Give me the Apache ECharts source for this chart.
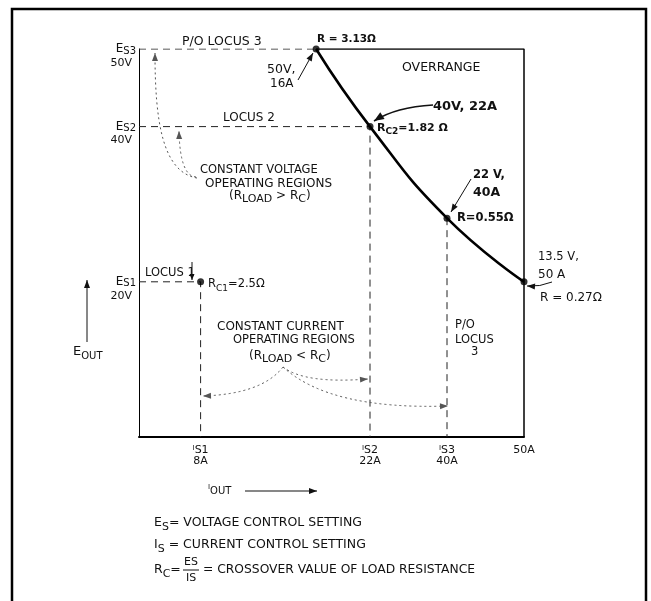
<!DOCTYPE html>
<html><head><meta charset="utf-8">
<script src="https://cdn.jsdelivr.net/npm/echarts@6/dist/echarts.min.js"></script>
<style>html,body{margin:0;padding:0;background:#fff}#c{width:651px;height:601px}</style>
</head><body><div id="c"></div>
<script>
// ---- data (drawn positions read from the schematic) ----
const curveI = [23, 30, 40, 50];
const curveE = [50, 40, 28.2, 20];
const pointI = [8, 23, 30, 40, 50];
const pointE = [20, 50, 40, 28.2, 20];
const esPos = [20, 40, 50];
const esSub = ['S1', 'S2', 'S3'];
const esVolts = ['20V', '40V', '50V'];
const isPos = [8, 30, 40, 50];
const isSub = ['S1', 'S2', 'S3', ''];
const isAmps = ['8A', '22A', '40A', '50A'];
const locus1I = [0, 8, 8], locus1E = [20, 20, 0];
const locus2I = [0, 30, 30], locus2E = [40, 40, 0];
const locus3I = [0, 23], locus3E = [50, 50];
const locus3vI = [40, 40], locus3vE = [28.2, 0];
const overI = [23, 50, 50], overE = [50, 50, 0];

const zip = (a, b) => a.map((v, i) => [v, b[i]]);
const FONT = "'DejaVu Sans', sans-serif";
const INK = '#111';

function dashed(name, xs, ys) {
  return { name, type: 'line', data: zip(xs, ys), symbol: 'none', silent: true,
    lineStyle: { color: '#222', width: 1, type: [7, 5] }, z: 2 };
}

// ---- annotation helpers ----
const G = [];
function txt(x, y, text, o) {
  o = o || {};
  const size = o.size || 11.5, w = o.bold ? 'bold ' : '';
  const st = { text, x, y, font: w + size + 'px ' + FONT, fill: INK,
    textAlign: o.align || 'left', textVerticalAlign: 'middle' };
  if (o.rich) st.rich = o.rich;
  G.push({ type: 'text', style: st, z: 10 });
}
function richSet(size, bold, subScale) {
  const w = bold ? 'bold' : 'normal';
  return {
    m: { fontFamily: FONT, fontSize: size, fontWeight: w, fill: INK, lineHeight: size + 6, verticalAlign: 'middle' },
    s: { fontFamily: FONT, fontSize: Math.round(size * (subScale || 0.78)), fontWeight: w, fill: INK, lineHeight: size + 6, verticalAlign: 'bottom' }
  };
}
function head(x, y, fx, fy, len, hw, color) {
  const dx = x - fx, dy = y - fy, d = Math.hypot(dx, dy) || 1;
  const ux = dx / d, uy = dy / d;
  const bx = x - ux * len, by = y - uy * len;
  G.push({ type: 'polygon', shape: { points: [[x, y], [bx - uy * hw, by + ux * hw], [bx + uy * hw, by - ux * hw]] },
    style: { fill: color }, z: 11 });
}
function arrowLine(p0, p1, o) {
  o = o || {};
  const c = o.color || INK;
  G.push({ type: 'line', shape: { x1: p0[0], y1: p0[1], x2: p1[0], y2: p1[1] },
    style: { stroke: c, lineWidth: o.width || 1, lineDash: o.dash || null }, z: 11 });
  head(p1[0], p1[1], p0[0], p0[1], o.len || 8, o.hw || 3, c);
}
function arrowCurve(p0, cp, p1, o, cp2) {
  o = o || {};
  const c = o.color || INK;
  const shape = { x1: p0[0], y1: p0[1], x2: p1[0], y2: p1[1], cpx1: cp[0], cpy1: cp[1] };
  if (cp2) { shape.cpx2 = cp2[0]; shape.cpy2 = cp2[1]; }
  G.push({ type: 'bezierCurve', shape, style: { stroke: c, lineWidth: o.width || 1, lineDash: o.dash || null, fill: null }, z: 11 });
  const f = cp2 || cp;
  head(p1[0], p1[1], f[0], f[1], o.len || 8, o.hw || 3, c);
}

// frame
G.push({ type: 'polyline', shape: { points: [[12, 605], [12, 9], [646, 9], [646, 605]] },
  style: { stroke: '#000', lineWidth: 2.5, fill: null }, z: 1 });

// texts
txt(182, 42, 'P/O LOCUS 3', { size: 12.5 });
txt(317, 39, 'R = 3.13Ω', { bold: true, size: 10.5 });
txt(267, 70, '50V,', { size: 12.5 });
txt(270, 84, '16A', { size: 12 });
txt(402, 68, 'OVERRANGE', { size: 12.5 });
txt(433, 107, '40V, 22A', { bold: true, size: 13 });
txt(377, 128, '{m|R}{s|C2}{m|=1.82 Ω}', { rich: richSet(11, true, 0.85) });
txt(223, 118, 'LOCUS 2', { size: 12 });
txt(200, 170, 'CONSTANT VOLTAGE');
txt(205, 184, 'OPERATING REGIONS', { size: 12 });
txt(229, 196, '{m|(R}{s|LOAD}{m| > R}{s|C}{m|)}', { rich: richSet(12, false, 0.9) });
txt(145, 273, 'LOCUS 1', { size: 11.5 });
txt(208, 284, '{m|R}{s|C1}{m|=2.5Ω}', { rich: richSet(11.5, false) });
txt(217, 327, 'CONSTANT CURRENT', { size: 12 });
txt(233, 340, 'OPERATING REGIONS', { size: 11.5 });
txt(249, 356, '{m|(R}{s|LOAD}{m| < R}{s|C}{m|)}', { rich: richSet(12, false, 0.9) });
txt(455, 325, 'P/O');
txt(455, 340, 'LOCUS');
txt(471, 352, '3');
txt(473, 175, '22 V,', { bold: true, size: 11.5 });
txt(473, 193, '40A', { bold: true, size: 12.5 });
txt(457, 218, 'R=0.55Ω', { bold: true, size: 11.5 });
txt(538, 257, '13.5 V,');
txt(538, 275, '50 A', { size: 12 });
txt(540, 298, 'R = 0.27Ω', { size: 12 });
txt(73, 352, '{m|E}{s|OUT}', { rich: richSet(13, false) });
txt(208, 491, '{s|I}{m|OUT}', { rich: { s: { fontFamily: FONT, fontSize: 7, fill: INK, verticalAlign: 'top', lineHeight: 14 }, m: { fontFamily: FONT, fontSize: 10, fill: INK, lineHeight: 14, verticalAlign: 'middle' } } });
txt(154, 523, '{m|E}{s|S}{m|= VOLTAGE CONTROL SETTING}', { rich: richSet(12.5, false, 0.85) });
txt(154, 545, '{m|I}{s|S}{m| = CURRENT CONTROL SETTING}', { rich: richSet(12.5, false, 0.85) });
txt(154, 570, '{m|R}{s|C}{m|=}', { rich: richSet(12.5, false, 0.85) });
txt(191, 562, 'ES', { align: 'center', size: 11 });
txt(191, 578, 'IS', { align: 'center', size: 11 });
G.push({ type: 'line', shape: { x1: 183, y1: 570, x2: 199, y2: 570 }, style: { stroke: INK, lineWidth: 1 }, z: 10 });
txt(203, 570, '= CROSSOVER VALUE OF LOAD RESISTANCE', { size: 12.3 });

// arrows
const DOT = { dash: [2, 3], color: '#555', len: 8, hw: 3 };
arrowCurve([197, 178], [162, 172], [155, 53], DOT, [155, 120]);
arrowCurve([196, 177], [180, 176], [179, 131], DOT);
arrowCurve([283, 367], [262, 394], [203, 396], DOT);
arrowCurve([283, 367], [305, 384], [368, 379], DOT);
arrowCurve([283, 367], [330, 410], [448, 406], DOT);
arrowCurve([433, 105], [396, 107], [374, 121], { width: 1.5, len: 10, hw: 4 });
arrowLine([298, 80], [313, 53], { width: 1 });
arrowLine([471, 179], [451, 212], { width: 1 });
arrowCurve([552, 282], [540, 287], [527, 286], { width: 1 });
arrowLine([87, 342], [87, 280], { width: 1 });
arrowLine([245, 491], [317, 491], { width: 1.2 });
arrowLine([192, 262], [192, 280], { width: 1, len: 6, hw: 2.5 });

const yRich = {
  b: { fontSize: 11, lineHeight: 14 },
  e: { fontFamily: FONT, fontSize: 12, color: INK, lineHeight: 14, verticalAlign: 'middle' },
  s: { fontFamily: FONT, fontSize: 10, color: INK, lineHeight: 14, verticalAlign: 'bottom' },
  v: { fontFamily: FONT, fontSize: 11, color: INK, lineHeight: 14, padding: [0, 4, 0, 0] }
};
const xRich = {
  i: { fontFamily: FONT, fontSize: 7, color: INK, lineHeight: 11, verticalAlign: 'top' },
  s: { fontFamily: FONT, fontSize: 11, color: INK, lineHeight: 11 },
  a: { fontFamily: FONT, fontSize: 11, color: INK, lineHeight: 11 }
};

const chart = echarts.init(document.getElementById('c'), null, { renderer: 'canvas' });
chart.setOption({
  animation: false,
  backgroundColor: '#fff',
  grid: { left: 139, right: 127, top: 49, bottom: 164, containLabel: false },
  xAxis: {
    type: 'value', min: 0, max: 50,
    axisLine: { show: true, lineStyle: { color: '#000', width: 2 } },
    axisTick: { show: false }, splitLine: { show: false },
    axisLabel: {
      customValues: isPos, margin: 8,
      formatter: v => {
        const i = isPos.indexOf(v);
        if (i < 0) return '';
        return isSub[i] ? `{i|I}{s|${isSub[i]}}\n{a|${isAmps[i]}}` : `{a|${isAmps[i]}}`;
      },
      rich: xRich
    }
  },
  yAxis: {
    type: 'value', min: 0, max: 50,
    axisLine: { show: true, lineStyle: { color: '#000', width: 1 } },
    axisTick: { show: false }, splitLine: { show: false },
    axisLabel: {
      customValues: esPos, margin: 3, align: 'right',
      formatter: v => {
        const i = esPos.indexOf(v);
        if (i < 0) return '';
        return `{b| }\n{e|E}{s|${esSub[i]}}\n{v|${esVolts[i]}}`;
      },
      rich: yRich
    }
  },
  series: [
    dashed('locus1', locus1I, locus1E),
    dashed('locus2', locus2I, locus2E),
    dashed('locus3', locus3I, locus3E),
    dashed('locus3v', locus3vI, locus3vE),
    { name: 'overrange', type: 'line', data: zip(overI, overE), symbol: 'none', silent: true,
      lineStyle: { color: '#000', width: 1.5 }, z: 3 },
    { name: 'limit', type: 'line', data: zip(curveI, curveE), symbol: 'none', smooth: 0.5, silent: true,
      lineStyle: { color: '#000', width: 2.6 }, z: 4 },
    { name: 'points', type: 'scatter', data: zip(pointI, pointE), symbol: 'circle', symbolSize: 7,
      itemStyle: { color: '#000' }, silent: true, z: 5 }
  ],
  graphic: G
});
</script>
</body></html>
